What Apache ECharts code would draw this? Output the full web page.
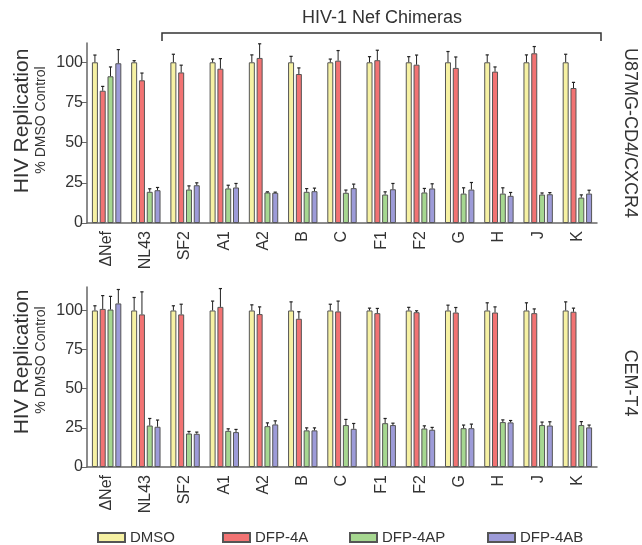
<!DOCTYPE html>
<html>
<head>
<meta charset="utf-8">
<script src="https://cdn.jsdelivr.net/npm/echarts@6/dist/echarts.min.js"></script>
<style>
html,body{margin:0;padding:0;background:#fff;}
#chart{width:642px;height:545px;}
</style>
</head>
<body>
<div id="chart"></div>
<script>
// ---- Data ----
const categories = ['\u0394Nef','NL43','SF2','A1','A2','B','C','F1','F2','G','H','J','K'];
const seriesNames = ['DMSO','DFP-4A','DFP-4AP','DFP-4AB'];
const yTicks = [0,25,50,75,100];

// U87MG-CD4/CXCR4 (top panel)
const dmsoTop     = [100,100,100,100,100,100,100,100,100,100,100,100,100];
const dmsoTopErr  = [4.5,1,5,2,4.6,3.7,2,3.5,3.5,6.7,4.6,4.6,5];
const fp4aTop     = [82.3,88.8,93.7,96,102.7,92.7,101,101.3,98.5,96.5,94.2,105.6,84];
const fp4aTopErr  = [2.7,4.5,4.5,6.3,8.8,3.8,6.3,6.2,6,6.8,2.9,4.2,3.5];
const fp4apTop    = [91.3,19.4,20.8,21.5,19,19.4,18.8,17.7,19,18.3,18.3,17.7,15.8];
const fp4apTopErr = [5.8,1.9,2.3,2,0.4,2,1.7,1.7,2.5,3.6,3.6,1,1.7];
const fp4abTop    = [99.4,20.4,23.5,22.1,18.8,19.8,21.7,21,21.5,20.8,16.9,17.9,18.3];
const fp4abTopErr = [8.5,1.7,1.5,2.5,0.4,1.9,2.5,3.6,2.9,4.4,2.1,1,2.1];

// CEM-T4 (bottom panel)
const dmsoBot     = [100,100,100,100,100,100,100,100,100,100,100,100,100];
const dmsoBotErr  = [3,8.3,3,6,3.6,5.5,4,1.5,2,3.4,4.9,4.9,5.5];
const fp4aBot     = [101,97.5,97.5,102.3,97.7,94.7,99.4,98.3,98.9,98.7,98.7,98.3,99.2];
const fp4aBotErr  = [8.5,14.4,6.5,11.7,4.6,4.5,6.6,3,0.9,3.2,3.6,2.7,2.3];
const fp4apBot    = [100.6,26.5,21.4,23.1,26.1,23.4,26.8,28,24.6,24.8,28.7,26.8,26.8];
const fp4apBotErr = [8.4,4.5,1.3,1.3,2.1,1.6,3.6,3,1.7,2,1.4,1.9,2.2];
const fp4abBot    = [104.5,25.7,21.2,22.3,27.2,23.4,24.4,26.8,23.8,24.8,28.5,26.5,25.3];
const fp4abBotErr = [8.9,4.3,1.1,1.7,2.3,1.6,3.4,1.2,1.5,2.6,1.2,2.4,1.5];

// ---- Styling ----
const FONT = '"Liberation Sans", Arial, Helvetica, sans-serif';
const colors = ['#f6f1a3','#f27373','#a6d790','#9d9bd8'];
const BAR_W = 6, BAR_GAP = 0.3;
const STEP = BAR_W * (1 + BAR_GAP);

const topVals = [dmsoTop, fp4aTop, fp4apTop, fp4abTop];
const topErrs = [dmsoTopErr, fp4aTopErr, fp4apTopErr, fp4abTopErr];
const botVals = [dmsoBot, fp4aBot, fp4apBot, fp4abBot];
const botErrs = [dmsoBotErr, fp4aBotErr, fp4apBotErr, fp4abBotErr];

function errSeries(gi, si, vals, errs) {
  const off = (si - 1.5) * STEP;
  return {
    type: 'custom',
    name: seriesNames[si],
    xAxisIndex: gi, yAxisIndex: gi,
    z: 5,
    silent: true,
    data: vals.map((v, i) => [i, v, errs[i]]),
    renderItem: function (params, api) {
      const p = api.coord([api.value(0), api.value(1)]);
      const t = api.coord([api.value(0), api.value(1) + api.value(2)]);
      const x = p[0] + off;
      return {
        type: 'group',
        children: [
          {type: 'line', shape: {x1: x, y1: p[1], x2: x, y2: t[1]}, style: {stroke: '#222', lineWidth: 1}},
          {type: 'line', shape: {x1: x - 1.6, y1: t[1], x2: x + 1.6, y2: t[1]}, style: {stroke: '#222', lineWidth: 1.2}}
        ]
      };
    }
  };
}

const series = [];
[[topVals, topErrs], [botVals, botErrs]].forEach(([vals, errs], gi) => {
  vals.forEach((arr, si) => {
    series.push({
      type: 'bar',
      name: seriesNames[si],
      xAxisIndex: gi, yAxisIndex: gi,
      data: arr,
      barWidth: BAR_W,
      barGap: (BAR_GAP * 100) + '%',
      itemStyle: {color: colors[si], borderColor: '#555', borderWidth: 1},
      emphasis: {disabled: true}
    });
  });
  vals.forEach((arr, si) => series.push(errSeries(gi, si, arr, errs[si])));
});

function xAxis(gi) {
  return {
    type: 'category', gridIndex: gi, data: categories,
    axisLine: {lineStyle: {color: '#666', width: 1.5}},
    axisTick: {show: false},
    axisLabel: {rotate: 90, margin: 8, fontSize: 16, color: '#333', fontFamily: FONT}
  };
}
function yAxis(gi, max) {
  return {
    type: 'value', gridIndex: gi, min: 0, max: max, interval: 25,
    splitLine: {show: false},
    axisLine: {show: true, lineStyle: {color: '#666', width: 1.5}},
    axisTick: {show: true, length: 5, lineStyle: {color: '#666'}, customValues: yTicks},
    axisLabel: {fontSize: 16, color: '#333', fontFamily: FONT, margin: 4, customValues: yTicks}
  };
}

const legendLefts = [97, 222, 349, 487];
const legends = seriesNames.map((n, i) => ({
  data: [n], left: legendLefts[i], top: 530, padding: 0,
  itemWidth: 27, itemHeight: 9, itemGap: 4,
  icon: 'rect',
  selectedMode: false,
  textStyle: {fontSize: 15, color: '#333', fontFamily: FONT}
}));

function txt(x, y, text, size, rot) {
  return {
    type: 'text', x: x, y: y, rotation: rot || 0,
    style: {text: text, fontSize: size, fontFamily: FONT, fill: '#333', align: 'center', verticalAlign: 'middle'}
  };
}

const chart = echarts.init(document.getElementById('chart'), null, {renderer: 'canvas'});
chart.setOption({
  animation: false,
  backgroundColor: '#fff',
  grid: [
    {left: 87, right: 45, top: 43, height: 180},
    {left: 87, right: 45, top: 287, height: 180}
  ],
  xAxis: [xAxis(0), xAxis(1)],
  yAxis: [yAxis(0, 112), yAxis(1, 115)],
  legend: legends,
  series: series,
  graphic: [
    txt(382, 18, 'HIV-1 Nef Chimeras', 18),
    {type: 'polyline', shape: {points: [[162, 41], [162, 33], [601, 33], [601, 41]]}, style: {stroke: '#333', lineWidth: 1.5, fill: null}},
    txt(22, 121, 'HIV Replication', 21, Math.PI / 2),
    txt(41, 120, '% DMSO Control', 14, Math.PI / 2),
    txt(22, 362, 'HIV Replication', 21, Math.PI / 2),
    txt(41, 360, '% DMSO Control', 14, Math.PI / 2),
    txt(630, 133, 'U87MG-CD4/CXCR4', 18, -Math.PI / 2),
    txt(630, 383, 'CEM-T4', 18, -Math.PI / 2)
  ]
});
</script>
</body>
</html>
